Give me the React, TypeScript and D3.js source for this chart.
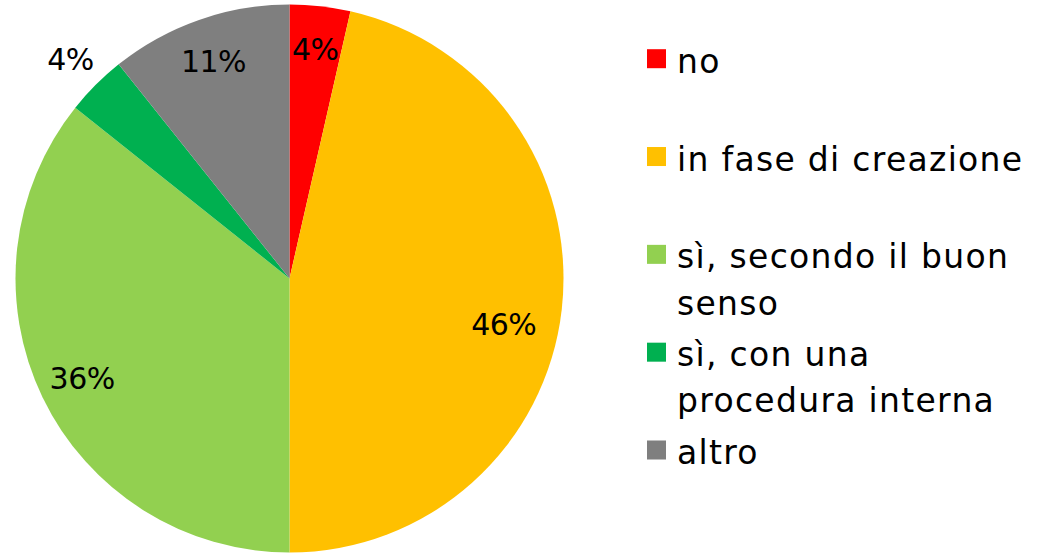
import React from "react";
import * as d3 from "d3";

const categories = [
  "no",
  "in fase di creazione",
  "sì, secondo il buon senso",
  "sì, con una procedura interna",
  "altro",
];
const counts = [1, 13, 10, 1, 3];
const colors = ["#FF0000", "#FFC000", "#92D050", "#00B050", "#7F7F7F"];
const legendLines = [
  ["no"],
  ["in fase di creazione"],
  ["sì, secondo il buon", "senso"],
  ["sì, con una", "procedura interna"],
  ["altro"],
];

const W = 1043;
const H = 553;
const FONT = "'DejaVu Sans', sans-serif";

export default function App() {
  const cx = 289.5;
  const cy = 278.5;
  const r = 274;
  const total = d3.sum(counts);
  const pie = d3.pie<number>().sort(null).value((d) => d);
  const arcs = pie(counts);
  const arc = d3.arc<d3.PieArcDatum<number>>().innerRadius(0).outerRadius(r);
  const labelArc = d3
    .arc<d3.PieArcDatum<number>>()
    .innerRadius(r * 0.84)
    .outerRadius(r * 0.84);
  const outsideArc = d3
    .arc<d3.PieArcDatum<number>>()
    .innerRadius(r * 1.13)
    .outerRadius(r * 1.13);
  const fmt = (v: number) => `${Math.round((v / total) * 100)}%`;

  const legendY = d3
    .scaleLinear()
    .domain([0, categories.length - 1])
    .range([72.7, 464]);

  return (
    <svg
      width={W}
      height={H}
      style={{ position: "absolute", left: 0, top: 0, background: "#fff" }}
    >
      <g transform={`translate(${cx},${cy})`}>
        {arcs.map((a, i) => (
          <path key={i} d={arc(a) || ""} fill={colors[i]} />
        ))}
        {arcs.map((a, i) => {
          const small = a.endAngle - a.startAngle < 0.3;
          const outside = small && i === 3;
          let [x, y] = outside ? outsideArc.centroid(a) : labelArc.centroid(a);
          if (i === 1) {
            // largest slice: label sits a little lower along the rim
            const ang = (a.startAngle + a.endAngle) / 2 + 0.1;
            const rr = r * 0.8;
            x = Math.sin(ang) * rr;
            y = -Math.cos(ang) * rr;
          }
          return (
            <text
              key={i}
              x={x}
              y={y}
              textAnchor="middle"
              dominantBaseline="central"
              fontFamily={FONT}
              fontSize={30}
              letterSpacing={-0.5}
              fill="#000"
            >
              {fmt(a.data)}
            </text>
          );
        })}
      </g>
      {categories.map((c, i) => {
        const by = legendY(i);
        return (
          <g key={c}>
            <rect x={647} y={by - 23.5} width={19} height={19} fill={colors[i]} />
            <text fontFamily={FONT} fontSize={33} letterSpacing={1.3} fill="#000">
              {legendLines[i].map((l, j) => (
                <tspan key={j} x={677} y={by + j * 46.3}>
                  {l}
                </tspan>
              ))}
            </text>
          </g>
        );
      })}
    </svg>
  );
}
